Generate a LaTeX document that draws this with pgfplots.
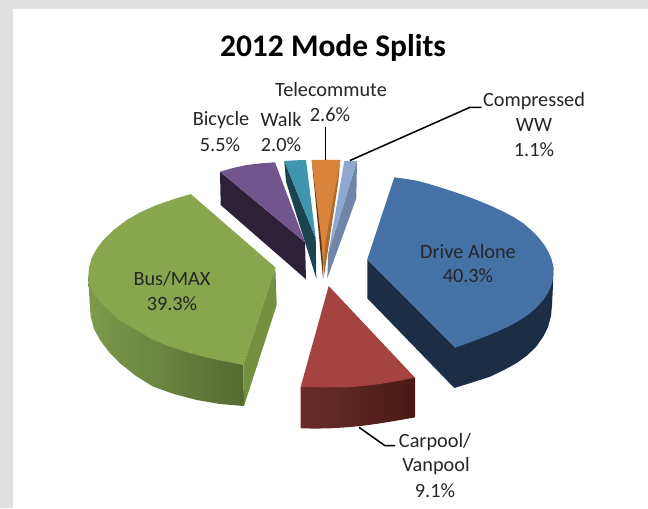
\documentclass[border=0pt]{standalone}
\usepackage{pgfplots}
\pgfplotsset{compat=1.18}
\usepackage{fontspec}
\setmainfont{Carlito}
\definecolor{frame}{HTML}{E0E0E0}
\definecolor{blueT}{HTML}{4571A6}
\definecolor{blueS}{HTML}{1B2E45}
\definecolor{redT}{HTML}{A44340}
\definecolor{redL}{HTML}{6A2C2A}
\definecolor{redR}{HTML}{481A14}
\definecolor{greenT}{HTML}{89A54E}
\definecolor{greenL}{HTML}{7E9A4C}
\definecolor{greenR}{HTML}{556A2F}
\definecolor{greenF}{HTML}{75903F}
\definecolor{purT}{HTML}{73558D}
\definecolor{purS}{HTML}{2D2138}
\definecolor{tealT}{HTML}{4096AF}
\definecolor{tealS}{HTML}{1B4450}
\definecolor{orT}{HTML}{DA833B}
\definecolor{orD}{HTML}{5C3515}
\definecolor{orS}{HTML}{B06A2C}
\definecolor{ltT}{HTML}{8FA8D2}
\definecolor{ltS}{HTML}{7085A8}
\definecolor{txt}{HTML}{262626}
\begin{document}
\begin{tikzpicture}
\begin{axis}[
  scale only axis, width=486pt, height=381pt,
  xmin=0, xmax=648, ymin=0, ymax=508, y dir=reverse,
  hide axis, clip=true,
  every axis plot/.append style={draw=none},
]
% page frame
\addplot[fill=frame] coordinates {(0,0)(648,0)(648,508)(0,508)} --cycle;
\addplot[fill=white] coordinates {(13,9)(648,9)(648,508)(13,508)} --cycle;

% Drive Alone 40.3%
\addplot[fill=blueS] coordinates {(367.3,259.3)(367.3,298.3)(454.3,388)(472,382.5)(490,376.7)(504,370)(516.7,363)(527,355.5)(536,347)(543,337)(548,327)(551,316)(552,305)(553,285)(553.3,266.7)(455.3,347.7)} --cycle;
\addplot[fill=blueT] coordinates {(394.3,177.3)(405.5,178.8)(416.7,180.7)(428.5,183.8)(440,187.3)(451.5,191)(463.3,195)(473.5,198.7)(483.3,202.7)(493.5,207)(503.3,211.7)(513.5,217)(523.3,223.3)(531,230)(538.3,237.3)(544,244.5)(548.3,251.7)(551.5,259)(553.3,266.7)(553.5,275)(552,283.3)(548.5,292)(543.3,300)(537,307)(530,313.3)(520.5,319.8)(510,325.7)(498.5,331)(486.7,336)(471,342)(455.3,347.7)(367.3,259.3)} --cycle;

% Carpool/Vanpool 9.1%
\addplot[left color=redL,right color=redR] coordinates {(300.7,386.7)(300.7,428.3)(315,428.6)(330,428.3)(347,427.3)(363,425.7)(377,423.8)(390,421.7)(403,419.5)(415,417.3)(415,377.7)} --cycle;
\addplot[fill=redT] coordinates {(328.7,286)(415,377.7)(398,381)(380,384)(363,386)(346.7,387.3)(323,387.5)(300.7,386.7)} --cycle;

% Bus/MAX 39.3%
\addplot[left color=greenL,right color=greenR] coordinates {(88.3,276.7)(88.6,285)(89.5,300)(90.7,316.7)(94,329)(100,340)(109,352)(120,363.3)(136,376)(153.3,386.7)(174,394)(196.7,400)(220,404)(244,406)(243.3,365)} --cycle;
\addplot[fill=greenF] coordinates {(275.3,267.3)(276.7,305)(244,406)(243.3,365)} --cycle;
\addplot[fill=greenT] coordinates {(190.7,194)(275.3,267.3)(243.3,365)(226.7,361.7)(210,358.3)(190,353.1)(170,346.7)(150.6,338.8)(136.7,330)(120.4,321)(110,311.7)(100.3,302.4)(93.3,293.3)(89.5,285)(88.3,276.7)(89,267.6)(91.7,258.3)(96.3,249.3)(103.3,240)(113.9,229.8)(126.7,220)(141,211.9)(156.7,205)(173.5,199.2)} --cycle;

% Bicycle 5.5%
\addplot[fill=purS] coordinates {(220,171.7)(220.7,205)(306,279.3)(305,242.3)} --cycle;
\addplot[fill=purT] coordinates {(220,171.7)(233,168)(246.7,165)(261,163.3)(275,162.3)(305,242.3)} --cycle;

% Walk 2.0%
\addplot[fill=tealS] coordinates {(284.3,161)(286,181.7)(316.3,278.3)(315.7,238.3)} --cycle;
\addplot[fill=tealT] coordinates {(284.3,161)(295,160.3)(306,160)(315.7,238.3)} --cycle;

% Telecommute 2.6%
\addplot[fill=orD] coordinates {(311.7,160)(314.3,186.7)(323,278.3)(323.5,240)} --cycle;
\addplot[fill=orS] coordinates {(340.3,160)(338.3,181.7)(323.7,278.3)(323.5,240)} --cycle;
\addplot[fill=orT] coordinates {(311.7,160)(326,159.7)(340.3,160)(325.7,240)(323.4,268)(321.3,240)} --cycle;

% Compressed WW 1.1%
\addplot[fill=ltS] coordinates {(357,161)(356.3,198.3)(327.3,278.3)(328.3,253.3)} --cycle;
\addplot[fill=ltT] coordinates {(344.3,161)(350.5,160.7)(357,161)(328.3,253.3)} --cycle;

% leader lines
\addplot[draw=black,line width=1.15pt] coordinates {(325.3,126.7)(325.3,160)};
\addplot[draw=black,line width=1.15pt] coordinates {(350,160.5)(470,107.3)(481.7,107.3)};
\addplot[draw=black,line width=1.15pt] coordinates {(359,427.3)(385,445.7)(395,445.7)};

% labels
\tikzset{lb/.style={anchor=center,inner sep=0pt,text=txt,font=\fontsize{15.2pt}{17pt}\selectfont}}
\node[anchor=center,inner sep=0pt,text=black,font=\fontsize{23.6pt}{26pt}\selectfont\bfseries] at (axis cs:333,48) {2012 Mode Splits};
\node[lb] at (axis cs:331,90) {Telecommute};
\node[lb] at (axis cs:330,115) {2.6\%};
\node[lb] at (axis cs:221,120) {Bicycle};
\node[lb] at (axis cs:220,145) {5.5\%};
\node[lb] at (axis cs:281,120) {Walk};
\node[lb] at (axis cs:281,145) {2.0\%};
\node[lb] at (axis cs:534,101) {Compressed};
\node[lb] at (axis cs:534,125) {WW};
\node[lb] at (axis cs:534,150) {1.1\%};
\node[lb,text=black!85] at (axis cs:468,252) {Drive Alone};
\node[lb,text=black!85] at (axis cs:468,276) {40.3\%};
\node[lb,text=black!85] at (axis cs:172,279) {Bus/MAX};
\node[lb,text=black!85] at (axis cs:172,304) {39.3\%};
\node[lb] at (axis cs:435,442) {Carpool/};
\node[lb] at (axis cs:436,466) {Vanpool};
\node[lb] at (axis cs:435,491) {9.1\%};
\end{axis}
\end{tikzpicture}
\end{document}
